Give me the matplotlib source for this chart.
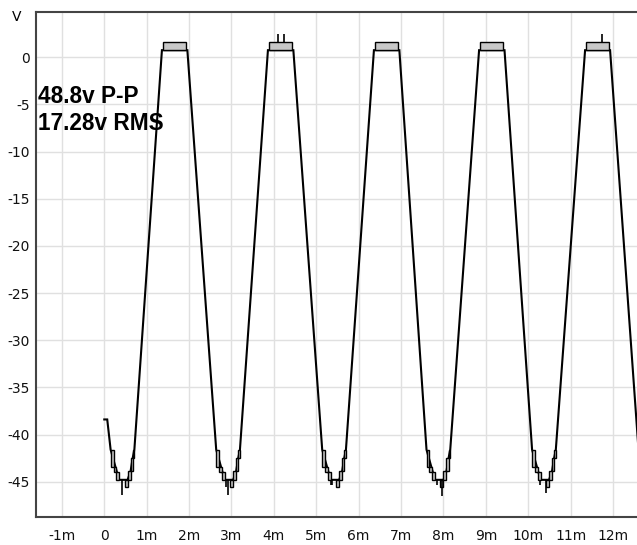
import matplotlib
matplotlib.use("Agg")
import matplotlib.pyplot as plt

plt.rcParams["axes.unicode_minus"] = False

# waveform trace, time in ms, volts
trace_t = [0.0, 0.07, 0.15, 0.35, 0.55, 0.62, 0.67, 0.71, 1.36, 1.96,
           2.64, 2.84, 3.04, 3.11, 3.16, 3.20, 3.86, 4.46,
           5.14, 5.34, 5.54, 5.61, 5.66, 5.70, 6.36, 6.96,
           7.60, 7.80, 8.00, 8.07, 8.12, 8.16, 8.84, 9.44,
           10.09, 10.29, 10.49, 10.56, 10.61, 10.65, 11.34, 11.93, 12.6]
trace_v = [-38.4, -38.4, -41.6, -44.8, -44.8, -43.9, -42.5, -41.6, 0.74, 0.74,
           -41.6, -44.8, -44.8, -43.9, -42.5, -41.6, 0.74, 0.74,
           -41.6, -44.8, -44.8, -43.9, -42.5, -41.6, 0.74, 0.74,
           -41.6, -44.8, -44.8, -43.9, -42.5, -41.6, 0.74, 0.74,
           -41.6, -44.8, -44.8, -43.9, -42.5, -41.6, 0.74, 0.74, -41.6]

# min/max envelope boxes (gray)
box_t0 = [0.15, 0.22, 0.28, 0.48, 0.55, 0.62, 0.67, 1.39,
          2.64, 2.71, 2.77, 2.97, 3.04, 3.11, 3.16, 3.89,
          5.14, 5.21, 5.27, 5.47, 5.54, 5.61, 5.66, 6.39,
          7.60, 7.67, 7.73, 7.93, 8.00, 8.07, 8.12, 8.87,
          10.09, 10.16, 10.22, 10.42, 10.49, 10.56, 10.61, 11.37]
box_t1 = [0.22, 0.28, 0.35, 0.55, 0.62, 0.67, 0.71, 1.93,
          2.71, 2.77, 2.84, 3.04, 3.11, 3.16, 3.20, 4.43,
          5.21, 5.27, 5.34, 5.54, 5.61, 5.66, 5.70, 6.93,
          7.67, 7.73, 7.80, 8.00, 8.07, 8.12, 8.16, 9.41,
          10.16, 10.22, 10.29, 10.49, 10.56, 10.61, 10.65, 11.91]
box_lo = [-43.4, -44.0, -44.8, -45.6, -44.8, -43.9, -42.5, 0.74] * 5
box_hi = [-41.6, -43.4, -44.0, -44.8, -43.9, -42.5, -41.6, 1.56] * 5

# single-sample glitches
spike_t = [0.43, 2.87, 2.92, 5.34, 5.37, 7.84, 7.96, 10.27, 10.42, 4.09, 4.24, 11.73]
spike_lo = [-46.4, -45.6, -46.4, -45.4, -45.4, -45.3, -46.5, -45.4, -46.2, 1.56, 1.56, 1.56]
spike_hi = [-44.8, -44.8, -44.8, -44.8, -44.8, -44.8, -44.8, -44.8, -44.8, 2.46, 2.46, 2.46]

x_ticks = list(range(-1, 13))
x_labels = ["-1m", "0"] + [f"{i}m" for i in range(1, 13)]
y_ticks = list(range(0, -50, -5))

fig = plt.figure(figsize=(6.37, 5.45), dpi=100)
ax = fig.add_axes([36 / 637, 28 / 545, 602.5 / 637, 505 / 545])

ax.plot(trace_t, trace_v, color="black", lw=1.5, zorder=3, solid_joinstyle="miter")
widths = [b - a for a, b in zip(box_t0, box_t1)]
heights = [h - l for l, h in zip(box_lo, box_hi)]
ax.bar(box_t0, heights, width=widths, bottom=box_lo, align="edge",
       color="#c8c8c8", edgecolor="black", linewidth=1.0, zorder=4)
ax.vlines(spike_t, spike_lo, spike_hi, color="black", lw=1.2, zorder=4)

ax.set_xlim(-1.61, 12.6)
ax.set_ylim(-48.74, 4.79)
ax.set_xticks(x_ticks)
ax.set_xticklabels(x_labels)
ax.set_yticks(y_ticks)
ax.grid(True, color="#e0e0e0", lw=1)
ax.set_axisbelow(True)
ax.tick_params(length=0, labelsize=10, colors="#111111")
ax.tick_params(axis="x", pad=9)
ax.tick_params(axis="y", pad=4.5)
for s in ["left", "top", "bottom"]:
    ax.spines[s].set_color("#444444")
    ax.spines[s].set_linewidth(1.5)
ax.spines["right"].set_visible(False)

fig.text(17 / 637, 1 - 17 / 545, "V", fontsize=10, ha="center", va="center")
fig.text(38 / 637, 1 - 103 / 545, "48.8v P-P", fontsize=16.3, fontweight="bold",
         family="Liberation Sans", va="baseline")
fig.text(38 / 637, 1 - 130 / 545, "17.28v RMS", fontsize=16.3, fontweight="bold",
         family="Liberation Sans", va="baseline")

fig.savefig("out.png", dpi=100)
